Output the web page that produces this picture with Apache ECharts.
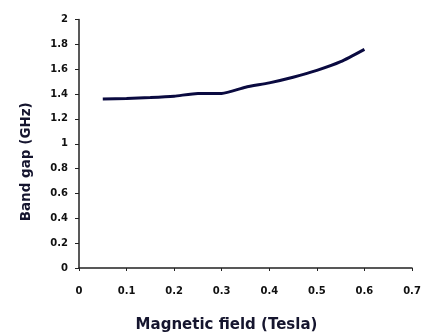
<!DOCTYPE html>
<html><head><meta charset="utf-8">
<script src="https://cdn.jsdelivr.net/npm/echarts@6/dist/echarts.min.js"></script>
<style>html,body{margin:0;padding:0;background:#fff}#c{width:424px;height:333px}</style>
</head><body><div id="c"></div>
<script>
var fieldTesla = [0.05, 0.1, 0.15, 0.2, 0.25, 0.3, 0.35, 0.4, 0.45, 0.5, 0.55, 0.6];
var bandGapGHz = [1.36, 1.365, 1.372, 1.383, 1.405, 1.405, 1.455, 1.49, 1.535, 1.59, 1.66, 1.76];
var xTitle = 'Magnetic field (Tesla)';
var yTitle = 'Band gap (GHz)';

var chart = echarts.init(document.getElementById('c'));
var lbl = {fontFamily: 'DejaVu Sans', fontWeight: 'bold', fontSize: 10, color: '#111'};
chart.setOption({
  animation: false,
  grid: {left: 79, right: 12, top: 19.5, bottom: 65, containLabel: false, outerBoundsMode: 'none'},
  xAxis: {
    type: 'value', min: 0, max: 0.7, interval: 0.1,
    name: xTitle, nameLocation: 'middle', nameGap: 50,
    nameTextStyle: {fontFamily: 'DejaVu Sans', fontWeight: 'bold', fontSize: 15, color: '#15152e', padding: [0, 38, 0, 0]},
    axisLine: {lineStyle: {color: '#222', width: 1.5}},
    axisTick: {show: true, length: 3, lineStyle: {color: '#222'}},
    axisLabel: Object.assign({margin: 18}, lbl),
    splitLine: {show: false}
  },
  yAxis: {
    type: 'value', min: 0, max: 2, interval: 0.2,
    name: yTitle, nameLocation: 'middle', nameGap: 46,
    nameTextStyle: {fontFamily: 'DejaVu Sans', fontWeight: 'bold', fontSize: 13.5, color: '#15152e', padding: [0, 36, 0, 0]},
    axisLine: {show: true, lineStyle: {color: '#222', width: 1.5}},
    axisTick: {show: true, length: 4, lineStyle: {color: '#222'}},
    axisLabel: Object.assign({margin: 11}, lbl),
    splitLine: {show: false}
  },
  series: [{
    type: 'line', smooth: 0.2, symbol: 'none',
    data: fieldTesla.map(function (x, i) { return [x, bandGapGHz[i]]; }),
    lineStyle: {color: '#0a0a40', width: 3}
  }]
});
</script></body></html>
